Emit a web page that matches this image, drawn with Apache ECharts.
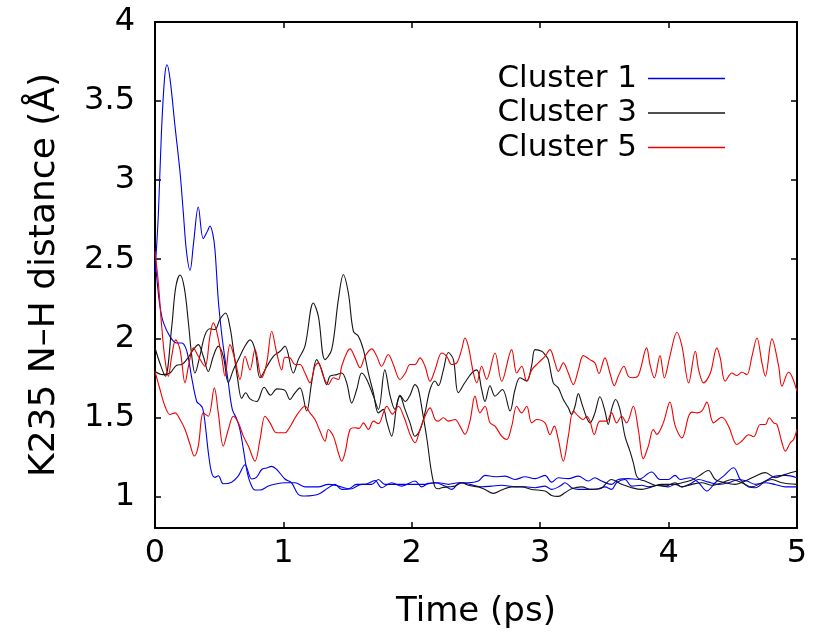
<!DOCTYPE html>
<html>
<head>
<meta charset="utf-8">
<script src="https://cdn.jsdelivr.net/npm/echarts@6/dist/echarts.min.js"></script>
<style>html,body{margin:0;padding:0;background:#fff}#c{width:814px;height:634px}</style>
</head>
<body>
<div id="c"></div>
<script>
// Legend / series names
const names = ['Cluster 1', 'Cluster 3', 'Cluster 5'];
const xTicks = [0, 1, 2, 3, 4, 5];

// Cluster 1 (blue), trajectory a and b : [time (ps), distance (Å)]
const c1a = [[0,2.42],[0.026,2.78],[0.05,3.3],[0.075,3.65],[0.094,3.73],[0.117,3.64],[0.156,3.34],[0.195,3.05],[0.22,2.8],[0.245,2.55],[0.273,2.43],[0.30,2.6],[0.337,2.83],[0.376,2.63],[0.41,2.68],[0.428,2.71],[0.45,2.66],[0.467,2.56],[0.493,2.24],[0.519,2.03],[0.545,1.87],[0.571,1.72],[0.602,1.55],[0.636,1.49],[0.662,1.42],[0.688,1.30],[0.714,1.17],[0.74,1.09],[0.779,1.04],[0.818,1.04],[0.883,1.065],[0.95,1.08],[1.012,1.086],[1.09,1.086],[1.168,1.06],[1.272,1.06],[1.35,1.076],[1.428,1.065],[1.506,1.048],[1.57,1.076],[1.636,1.076],[1.713,1.10],[1.765,1.055],[1.843,1.086],[1.921,1.065],[2.025,1.097],[2.077,1.06],[2.129,1.082],[2.207,1.086],[2.285,1.076],[2.362,1.086],[2.44,1.086],[2.518,1.097],[2.57,1.133],[2.648,1.124],[2.726,1.128],[2.804,1.107],[2.882,1.124],[2.96,1.112],[3.037,1.133],[3.089,1.09],[3.141,1.118],[3.219,1.112],[3.297,1.128],[3.375,1.097],[3.426,1.118],[3.478,1.097],[3.556,1.076],[3.608,1.107],[3.686,1.112],[3.764,1.107],[3.868,1.154],[3.933,1.107],[3.998,1.107],[4.05,1.133],[4.091,1.107],[4.169,1.118],[4.234,1.086],[4.298,1.034],[4.363,1.086],[4.43,1.13],[4.506,1.181],[4.558,1.107],[4.623,1.06],[4.675,1.055],[4.753,1.097],[4.831,1.128],[4.909,1.133],[5.0,1.118]];
const c1b = [[0,2.55],[0.013,2.39],[0.039,2.2],[0.065,2.10],[0.117,2.01],[0.169,1.97],[0.208,1.97],[0.247,1.92],[0.286,1.75],[0.325,1.60],[0.35,1.58],[0.37,1.56],[0.389,1.47],[0.415,1.28],[0.441,1.15],[0.467,1.12],[0.493,1.13],[0.532,1.08],[0.597,1.09],[0.649,1.13],[0.701,1.20],[0.753,1.11],[0.79,1.12],[0.831,1.17],[0.87,1.18],[0.909,1.19],[0.948,1.17],[1.012,1.11],[1.064,1.086],[1.116,1.013],[1.168,1.002],[1.272,1.013],[1.35,1.055],[1.402,1.076],[1.454,1.044],[1.532,1.048],[1.61,1.076],[1.687,1.076],[1.74,1.107],[1.79,1.076],[1.87,1.076],[1.947,1.076],[2.025,1.076],[2.103,1.076],[2.181,1.086],[2.259,1.065],[2.311,1.044],[2.375,1.086],[2.453,1.076],[2.544,1.061],[2.622,1.065],[2.7,1.07],[2.804,1.061],[2.882,1.061],[2.96,1.055],[3.037,1.065],[3.089,1.044],[3.154,1.065],[3.193,1.086],[3.245,1.055],[3.297,1.044],[3.375,1.044],[3.452,1.048],[3.504,1.06],[3.556,1.044],[3.595,1.086],[3.66,1.107],[3.712,1.065],[3.79,1.07],[3.842,1.06],[3.92,1.07],[3.998,1.06],[4.05,1.076],[4.104,1.06],[4.17,1.08],[4.234,1.107],[4.311,1.09],[4.389,1.076],[4.467,1.086],[4.545,1.107],[4.61,1.097],[4.675,1.076],[4.753,1.086],[4.83,1.075],[4.909,1.06],[5.0,1.06]];

// Cluster 3 (black)
const c3a = [[0,1.94],[0.039,1.84],[0.08,1.76],[0.13,2.07],[0.161,2.32],[0.195,2.40],[0.228,2.32],[0.26,2.1],[0.286,1.89],[0.311,1.78],[0.35,1.89],[0.389,2.02],[0.428,2.06],[0.467,2.055],[0.506,2.12],[0.55,2.16],[0.584,2.07],[0.61,1.93],[0.644,1.74],[0.675,1.62],[0.706,1.655],[0.74,1.617],[0.792,1.60],[0.85,1.69],[0.9,1.64],[0.95,1.68],[1.012,1.67],[1.051,1.613],[1.09,1.655],[1.129,1.686],[1.181,1.54],[1.22,1.72],[1.259,1.865],[1.298,1.80],[1.337,1.707],[1.363,1.76],[1.415,1.77],[1.454,1.78],[1.493,1.718],[1.532,1.59],[1.571,1.676],[1.61,1.78],[1.649,1.739],[1.701,1.634],[1.74,1.55],[1.79,1.80],[1.83,1.64],[1.869,1.55],[1.908,1.64],[1.95,1.60],[1.986,1.64],[2.025,1.707],[2.05,1.68],[2.08,1.55],[2.12,1.35],[2.15,1.17],[2.18,1.06],[2.207,1.048],[2.233,1.055],[2.285,1.06],[2.337,1.065],[2.388,1.086],[2.44,1.07],[2.518,1.06],[2.57,1.044],[2.635,1.019],[2.7,1.04],[2.778,1.06],[2.856,1.06],[2.934,1.044],[3.037,1.034],[3.089,1.006],[3.141,1.0],[3.193,1.023],[3.245,1.048],[3.323,1.06],[3.40,1.044],[3.465,1.048],[3.556,1.107],[3.634,1.076],[3.712,1.055],[3.79,1.044],[3.868,1.06],[3.946,1.076],[4.026,1.076],[4.104,1.086],[4.182,1.103],[4.234,1.128],[4.311,1.164],[4.363,1.107],[4.441,1.086],[4.519,1.076],[4.597,1.097],[4.675,1.128],[4.753,1.15],[4.831,1.118],[4.909,1.139],[5.0,1.16]];
const c3b = [[0,1.79],[0.06,1.77],[0.117,1.78],[0.169,1.83],[0.208,1.834],[0.26,1.88],[0.3,1.93],[0.337,1.96],[0.376,1.886],[0.415,1.79],[0.454,1.886],[0.493,1.95],[0.532,1.886],[0.571,1.72],[0.61,1.80],[0.649,1.865],[0.7,1.95],[0.74,1.99],[0.779,1.928],[0.818,1.75],[0.87,1.82],[0.922,1.886],[0.974,1.918],[1.012,1.95],[1.077,1.78],[1.116,1.865],[1.168,1.95],[1.233,2.223],[1.272,2.14],[1.324,1.865],[1.376,1.928],[1.428,2.244],[1.467,2.402],[1.506,2.286],[1.545,2.044],[1.584,2.013],[1.623,1.928],[1.662,1.78],[1.701,1.655],[1.74,1.528],[1.778,1.55],[1.804,1.476],[1.843,1.381],[1.882,1.57],[1.908,1.634],[1.947,1.55],[1.986,1.465],[2.025,1.38],[2.064,1.42],[2.103,1.53],[2.142,1.676],[2.181,1.73],[2.207,1.70],[2.246,1.80],[2.285,1.91],[2.324,1.865],[2.362,1.655],[2.414,1.72],[2.466,1.78],[2.506,1.80],[2.544,1.676],[2.57,1.60],[2.609,1.70],[2.648,1.634],[2.706,1.676],[2.765,1.54],[2.804,1.676],[2.843,1.75],[2.895,1.73],[2.934,1.83],[2.96,1.928],[3.012,1.918],[3.037,1.897],[3.063,1.865],[3.102,1.718],[3.141,1.686],[3.18,1.613],[3.219,1.56],[3.245,1.518],[3.271,1.57],[3.297,1.65],[3.323,1.59],[3.362,1.497],[3.388,1.465],[3.426,1.528],[3.465,1.63],[3.504,1.54],[3.53,1.455],[3.556,1.55],[3.587,1.613],[3.621,1.55],[3.66,1.381],[3.699,1.286],[3.725,1.213],[3.751,1.128],[3.777,1.107],[3.816,1.097],[3.894,1.07],[3.972,1.065],[4.05,1.086],[4.104,1.06],[4.182,1.076],[4.26,1.086],[4.338,1.07],[4.415,1.086],[4.493,1.107],[4.571,1.086],[4.649,1.06],[4.727,1.086],[4.805,1.107],[4.883,1.086],[5.0,1.076]];

// Cluster 5 (red)
const c5a = [[0,2.55],[0.026,2.35],[0.052,2.076],[0.078,1.865],[0.104,1.76],[0.13,1.886],[0.161,1.99],[0.195,1.928],[0.234,1.718],[0.26,1.82],[0.299,1.939],[0.337,1.886],[0.389,1.823],[0.428,2.013],[0.454,2.097],[0.48,2.044],[0.519,1.886],[0.545,1.76],[0.584,1.96],[0.623,1.865],[0.662,1.739],[0.701,1.886],[0.74,1.80],[0.779,1.928],[0.831,1.75],[0.87,1.844],[0.909,2.044],[0.948,1.907],[0.987,1.80],[1.012,1.88],[1.051,1.876],[1.09,1.834],[1.129,1.834],[1.168,1.78],[1.207,1.718],[1.246,1.823],[1.272,1.844],[1.311,1.76],[1.35,1.707],[1.389,1.75],[1.428,1.739],[1.454,1.823],[1.493,1.907],[1.519,1.933],[1.558,1.876],[1.597,1.813],[1.636,1.886],[1.688,1.933],[1.727,1.886],[1.765,1.823],[1.817,1.897],[1.856,1.834],[1.908,1.739],[1.95,1.78],[1.986,1.834],[2.025,1.834],[2.064,1.876],[2.103,1.823],[2.142,1.728],[2.181,1.80],[2.233,1.907],[2.272,1.886],[2.311,1.834],[2.35,1.844],[2.388,1.928],[2.414,2.002],[2.44,1.95],[2.48,1.78],[2.506,1.718],[2.544,1.823],[2.583,1.74],[2.648,1.907],[2.7,1.728],[2.778,1.928],[2.817,1.78],[2.856,1.823],[2.895,1.728],[2.934,1.80],[2.985,1.844],[3.037,1.886],[3.076,1.928],[3.115,1.844],[3.141,1.79],[3.18,1.844],[3.219,1.78],[3.258,1.707],[3.297,1.80],[3.336,1.89],[3.387,1.865],[3.426,1.844],[3.458,1.777],[3.504,1.876],[3.543,1.78],[3.577,1.70],[3.608,1.76],[3.652,1.823],[3.686,1.76],[3.717,1.75],[3.764,1.764],[3.829,1.939],[3.855,1.834],[3.889,1.75],[3.933,1.89],[3.967,1.75],[4.01,1.886],[4.065,2.038],[4.104,1.95],[4.156,1.718],[4.208,1.918],[4.234,1.80],[4.273,1.718],[4.325,1.78],[4.376,1.939],[4.402,1.876],[4.441,1.728],[4.493,1.78],[4.532,1.764],[4.571,1.785],[4.61,1.77],[4.649,1.886],[4.688,2.002],[4.727,1.844],[4.753,1.76],[4.805,1.996],[4.857,1.823],[4.883,1.697],[4.934,1.785],[4.96,1.76],[5.0,1.665]];
const c5b = [[0,1.79],[0.039,1.676],[0.078,1.57],[0.117,1.518],[0.156,1.528],[0.195,1.486],[0.234,1.423],[0.273,1.328],[0.306,1.255],[0.337,1.318],[0.376,1.528],[0.415,1.507],[0.462,1.686],[0.493,1.528],[0.532,1.318],[0.571,1.423],[0.61,1.507],[0.649,1.465],[0.688,1.381],[0.727,1.318],[0.779,1.223],[0.818,1.36],[0.857,1.507],[0.896,1.465],[0.948,1.402],[1.012,1.402],[1.038,1.423],[1.077,1.476],[1.116,1.528],[1.168,1.57],[1.207,1.528],[1.246,1.486],[1.285,1.413],[1.324,1.349],[1.35,1.423],[1.389,1.381],[1.428,1.276],[1.454,1.223],[1.48,1.276],[1.519,1.423],[1.558,1.434],[1.59,1.43],[1.623,1.465],[1.662,1.423],[1.701,1.476],[1.74,1.46],[1.78,1.53],[1.804,1.57],[1.85,1.52],[1.895,1.57],[1.94,1.50],[1.986,1.392],[2.025,1.339],[2.064,1.423],[2.103,1.507],[2.142,1.56],[2.181,1.486],[2.207,1.476],[2.246,1.497],[2.285,1.476],[2.337,1.486],[2.375,1.444],[2.414,1.392],[2.453,1.476],[2.492,1.634],[2.531,1.528],[2.57,1.57],[2.609,1.465],[2.648,1.444],[2.7,1.381],[2.739,1.36],[2.778,1.444],[2.817,1.57],[2.856,1.528],[2.895,1.57],[2.934,1.465],[2.973,1.486],[3.037,1.465],[3.076,1.39],[3.11,1.444],[3.141,1.36],[3.18,1.223],[3.219,1.381],[3.258,1.54],[3.297,1.507],[3.336,1.486],[3.362,1.507],[3.388,1.476],[3.421,1.392],[3.465,1.476],[3.517,1.476],[3.556,1.528],[3.595,1.465],[3.634,1.507],[3.673,1.465],[3.725,1.57],[3.764,1.423],[3.803,1.238],[3.842,1.318],[3.881,1.423],[3.907,1.392],[3.959,1.465],[4.01,1.596],[4.052,1.444],[4.104,1.37],[4.156,1.507],[4.182,1.533],[4.221,1.528],[4.26,1.54],[4.298,1.596],[4.35,1.465],[4.415,1.50],[4.467,1.444],[4.532,1.328],[4.571,1.35],[4.623,1.39],[4.662,1.377],[4.714,1.455],[4.753,1.455],[4.784,1.497],[4.818,1.465],[4.844,1.455],[4.883,1.339],[4.909,1.286],[4.948,1.339],[4.974,1.36],[5.0,1.423]];

const FONT = 'DejaVu Sans';
const colors = {'Cluster 1': '#0000f0', 'Cluster 3': '#141414', 'Cluster 5': '#f00000'};

function line(name, data) {
  return {
    name: name, type: 'line', data: data, smooth: 0.35, symbol: 'none',
    xAxisIndex: 0, yAxisIndex: 0,
    lineStyle: {width: 1.1, color: colors[name]}, itemStyle: {color: colors[name]},
    emphasis: {disabled: true}, animation: false, z: 2
  };
}

const chart = echarts.init(document.getElementById('c'), null, {renderer: 'canvas'});
const axisLine = {show: true, onZero: false, lineStyle: {color: '#000', width: 2}};
const tick = {show: true, inside: true, length: 6, lineStyle: {color: '#000', width: 1.5}};
chart.setOption({
  animation: false,
  backgroundColor: '#fff',
  textStyle: {fontFamily: FONT},
  grid: {left: 155, right: 17, top: 22, bottom: 106, containLabel: false},
  legend: {
    data: names, orient: 'vertical', right: 89, top: 62, align: 'right', padding: 0,
    icon: 'rect', itemWidth: 77, itemHeight: 1.5, itemGap: 1.5,
    selectedMode: false,
    textStyle: {fontSize: 31, fontFamily: FONT, color: '#000', lineHeight: 33, padding: [0, 6, 0, 0]}
  },
  xAxis: [
    {type: 'value', min: 0, max: 5, interval: 1, position: 'bottom',
     name: 'Time (ps)', nameLocation: 'middle', nameGap: 67,
     nameTextStyle: {fontSize: 34, fontFamily: FONT, color: '#000'},
     axisLine: axisLine, axisTick: tick, splitLine: {show: false},
     axisLabel: {fontSize: 32, fontFamily: FONT, color: '#000', margin: 10}},
    {type: 'value', min: 0, max: 5, interval: 1, position: 'top',
     axisLine: axisLine, axisTick: tick, splitLine: {show: false}, axisLabel: {show: false}}
  ],
  yAxis: [
    {type: 'value', min: 0.8, max: 4, splitNumber: 6, position: 'left',
     name: 'K235 N–H distance (Å)', nameLocation: 'middle', nameGap: 92, nameRotate: 90,
     nameTextStyle: {fontSize: 36, fontFamily: FONT, color: '#000'},
     axisLine: axisLine, axisTick: tick, splitLine: {show: false},
     axisLabel: {fontSize: 32, fontFamily: FONT, color: '#000', margin: 20, showMinLabel: false,
                 formatter: v => (Math.abs(v * 2 - Math.round(v * 2)) < 1e-6 ? String(v) : '')}},
    {type: 'value', min: 0.8, max: 4, splitNumber: 6, position: 'right',
     axisLine: axisLine, axisTick: tick, splitLine: {show: false}, axisLabel: {show: false}}
  ],
  series: [
    line('Cluster 1', c1a), line('Cluster 1', c1b),
    line('Cluster 3', c3a), line('Cluster 3', c3b),
    line('Cluster 5', c5a), line('Cluster 5', c5b)
  ]
});
</script>
</body>
</html>
